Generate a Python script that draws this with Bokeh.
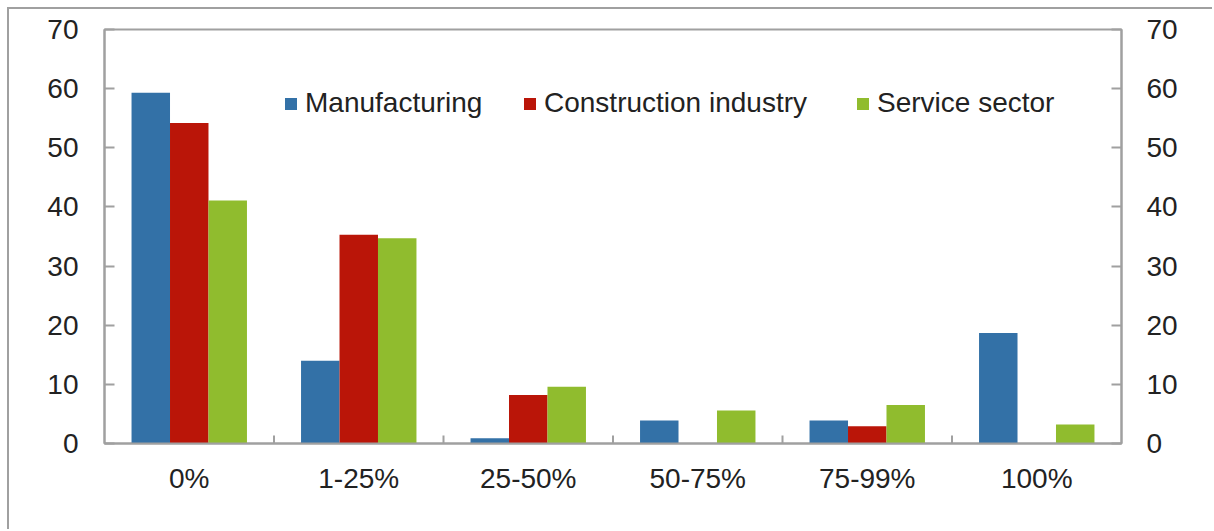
import math
from bokeh.plotting import figure
from bokeh.models import (ColumnDataSource, FactorRange, Range1d, LinearAxis,
                          FixedTicker, Legend, LegendItem)
from bokeh.transform import dodge
from bokeh.embed import file_html
from bokeh.resources import INLINE

categories = ["0%", "1-25%", "25-50%", "50-75%", "75-99%", "100%"]
manufacturing = [59.3, 14.0, 0.9, 3.9, 3.9, 18.7]
construction = [54.2, 35.3, 8.2, 0.0, 2.9, 0.0]
service = [41.1, 34.7, 9.6, 5.6, 6.5, 3.2]
series_names = ["Manufacturing", "Construction industry", "Service sector"]
series_colors = ["#3371A7", "#BA1508", "#90BC2E"]
y_ticks = [0, 10, 20, 30, 40, 50, 60, 70]
boundary_ticks = [1, 2, 3, 4, 5]  # category boundaries (synthetic coords)

FONT = "Liberation Sans"
FS = "28px"
GRAY = "#a0a0a0"
TXT = "#222222"

source = ColumnDataSource(dict(cat=categories, m=manufacturing, c=construction, s=service))

p = figure(width=1205, height=522, x_range=FactorRange(*categories, range_padding=0),
           y_range=Range1d(0, 70), x_axis_location="below", y_axis_location="left",
           output_backend="svg", toolbar_location=None,
           min_border_left=95, min_border_right=93, min_border_top=20, min_border_bottom=88)
p.margin = (7, 0, 0, 7)
p.styles = {"border-left": f"2px solid {GRAY}", "border-top": f"2px solid {GRAY}"}
p.grid.visible = False
p.outline_line_color = GRAY
p.outline_line_width = 2
p.background_fill_color = "white"
p.border_fill_color = "white"

bw = 0.227
keys = ["m", "c", "s"]
offsets = [-bw, 0.0, bw]
renderers = []
for k, off, col in zip(keys, offsets, series_colors):
    r = p.vbar(x=dodge("cat", off, range=p.x_range), top=k, width=bw, source=source,
               fill_color=col, line_color=None)
    renderers.append(r)

# boundary tick marks on the category axis (lower half clipped by frame)
p.scatter(x=boundary_ticks, y=[0] * len(boundary_ticks), marker="dash", size=16,
          angle=math.pi / 2, line_color=GRAY, line_width=2)

def style_axis(ax):
    ax.axis_line_color = GRAY
    ax.axis_line_width = 2
    ax.major_tick_line_color = GRAY
    ax.major_tick_line_width = 2
    ax.minor_tick_line_color = None
    ax.major_label_text_font = FONT
    ax.major_label_text_font_size = FS
    ax.major_label_text_color = TXT

ly = p.yaxis[0]
ly.ticker = FixedTicker(ticks=y_ticks)
style_axis(ly)
ly.major_tick_in = 10
ly.major_tick_out = 0
ly.major_label_standoff = 26

ry = LinearAxis(ticker=FixedTicker(ticks=y_ticks))
style_axis(ry)
ry.major_tick_in = 10
ry.major_tick_out = 0
ry.major_label_standoff = 25
p.add_layout(ry, "right")

cx = p.xaxis[0]
style_axis(cx)
cx.major_tick_line_color = None
cx.major_tick_in = 0
cx.major_tick_out = 0
cx.major_label_standoff = 19

legend_x = [179, 418, 751]
for n, r, lx in zip(series_names, renderers, legend_x):
    lg = Legend(items=[LegendItem(label=n, renderers=[r])],
                orientation="horizontal", location=(lx, 324),
                border_line_color=None, background_fill_alpha=0,
                label_text_font=FONT, label_text_font_size=FS, label_text_color=TXT,
                glyph_width=15, glyph_height=15, label_standoff=7,
                padding=0, margin=0)
    p.add_layout(lg)

open("out.html", "w").write(file_html(p, INLINE))
